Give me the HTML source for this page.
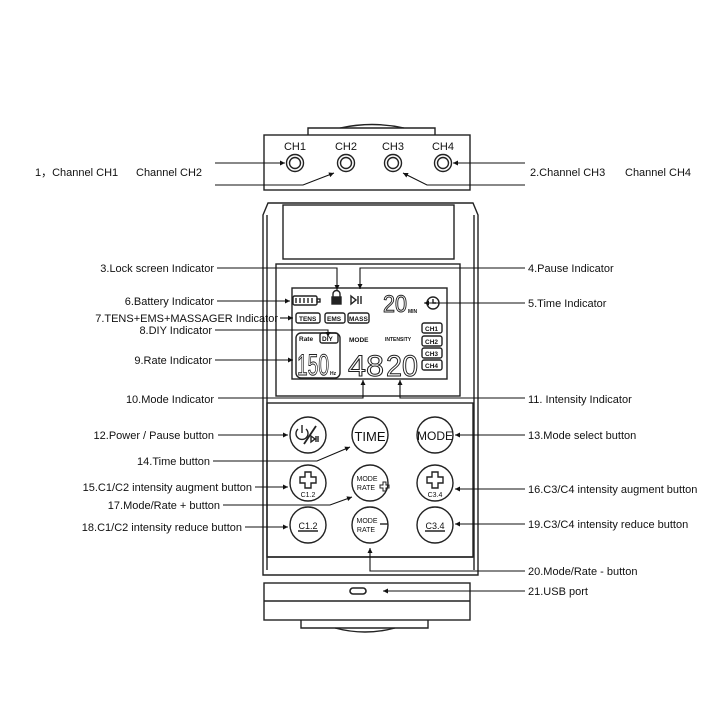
<!DOCTYPE html>
<html><head><meta charset="utf-8"><style>
html,body{margin:0;padding:0;background:#fff;}
svg{display:block;}
text{font-family:"Liberation Sans",sans-serif;fill:#111;}
</style></head><body>
<svg width="726" height="726" viewBox="0 0 726 726" xmlns="http://www.w3.org/2000/svg">
<defs>
<marker id="a" viewBox="0 0 10 10" refX="10" refY="5" markerWidth="7" markerHeight="5" orient="auto-start-reverse" markerUnits="userSpaceOnUse"><path d="M0,0 L10,5 L0,10 z" fill="#111"/></marker>
</defs>
<g fill="none" stroke="#222" stroke-width="1.4">
<path d="M308,135 V128 H435 V135"/>
<path d="M340,128 Q372,121 404,128"/>
<rect x="264" y="135" width="206" height="55"/>
<circle cx="295" cy="163" r="8.5"/><circle cx="295" cy="163" r="5.5"/>
<circle cx="346" cy="163" r="8.5"/><circle cx="346" cy="163" r="5.5"/>
<circle cx="393" cy="163" r="8.5"/><circle cx="393" cy="163" r="5.5"/>
<circle cx="443" cy="163" r="8.5"/><circle cx="443" cy="163" r="5.5"/>
<path d="M263,575 V215 L268,203 H473 L478,215 V575 Z"/>
<path d="M267,215 V570 M474,215 V570"/>
<rect x="283" y="205" width="171" height="54"/>
<rect x="276" y="264" width="184" height="132"/>
<rect x="292" y="288" width="155" height="91"/>
<rect x="267" y="403" width="206" height="154"/>
<line x1="267" y1="557" x2="473" y2="557"/>
<rect x="264" y="583" width="206" height="37"/>
<line x1="264" y1="601" x2="470" y2="601"/>
<path d="M301,620 V628 H428 V620"/>
<path d="M335,628 Q365,636 395,628"/>
<rect x="350" y="588" width="16" height="6" rx="3" stroke-width="1.6"/>
<circle cx="308" cy="435" r="18"/><circle cx="370" cy="435" r="18"/><circle cx="435" cy="435" r="18"/>
<circle cx="308" cy="483" r="18"/><circle cx="370" cy="483" r="18"/><circle cx="435" cy="483" r="18"/>
<circle cx="308" cy="525" r="18"/><circle cx="370" cy="525" r="18"/><circle cx="435" cy="525" r="18"/>
<path d="M305,472 h6 v5 h5 v6 h-5 v5 h-6 v-5 h-5 v-6 h5 z"/>
<path d="M432,472 h6 v5 h5 v6 h-5 v5 h-6 v-5 h-5 v-6 h5 z"/>
<path d="M383,482 h3 v3 h3 v3 h-3 v3 h-3 v-3 h-3 v-3 h3 z" stroke-width="1"/>
<line x1="380" y1="524" x2="388" y2="524"/>
<line x1="298" y1="531" x2="318" y2="531"/>
<line x1="425" y1="531" x2="445" y2="531"/>
<path d="M298,429 a6,6 0 1,0 8,0"/><line x1="302" y1="425" x2="302" y2="433"/>
<line x1="304" y1="444" x2="316" y2="426" stroke-width="1.8"/>
<path d="M311,436 l4,3 l-4,3 z M316,436 v6 M318,436 v6"/>
<rect x="293" y="296" width="24" height="9" rx="1.5"/><rect x="317" y="299" width="3" height="3"/>
<path d="M296,298 v5 M300,298 v5 M304,298 v5 M308,298 v5 M312,298 v5"/>
<rect x="332" y="297" width="9" height="7" fill="#222"/><path d="M333,297 v-3 a3.5,3.5 0 0,1 7,0 v3"/>
<path d="M351,296 l5,4 l-5,4 z M358,296 v8 M361,296 v8"/>
<rect x="296" y="313" width="24" height="10" rx="2"/>
<rect x="325" y="313" width="20" height="10" rx="2"/>
<rect x="348" y="313" width="21" height="10" rx="2"/>
<rect x="296" y="333" width="44" height="45" rx="5"/>
<rect x="320" y="333" width="18" height="10" rx="2"/>
<circle cx="433" cy="303" r="6"/><path d="M433,299 v4 h3"/>
<rect x="422" y="323" width="20" height="10" rx="2"/>
<rect x="422" y="336" width="20" height="10" rx="2"/>
<rect x="422" y="348" width="20" height="10" rx="2"/>
<rect x="422" y="360" width="20" height="10" rx="2"/>
</g>
<g font-size="6.5" font-weight="bold">
<text x="299" y="321">TENS</text><text x="327" y="321">EMS</text><text x="349" y="321">MASS</text>
<text x="299" y="341">Rate</text><text x="322" y="341">DIY</text>
<text x="349" y="342">MODE</text><text x="385" y="341" font-size="5">INTENSITY</text>
<text x="425" y="331">CH1</text><text x="425" y="344">CH2</text><text x="425" y="356">CH3</text><text x="425" y="368">CH4</text>
<text x="408" y="313" font-size="5">MIN</text><text x="330" y="375" font-size="5">Hz</text>
</g>
<g font-size="30" style="font-family:'DejaVu Sans Mono',monospace">
<text x="383" y="312" font-size="24" textLength="24" lengthAdjust="spacingAndGlyphs" style="fill:none;stroke:#222;stroke-width:1">20</text>
<text x="297" y="375" textLength="32" lengthAdjust="spacingAndGlyphs" style="fill:none;stroke:#222;stroke-width:1">150</text>
<text x="348" y="376" textLength="36" lengthAdjust="spacingAndGlyphs" style="fill:none;stroke:#222;stroke-width:1">48</text>
<text x="386" y="376" textLength="32" lengthAdjust="spacingAndGlyphs" style="fill:none;stroke:#222;stroke-width:1">20</text>
</g>
<text x="370" y="441" font-size="13" text-anchor="middle">TIME</text>
<text x="435" y="440" font-size="12" text-anchor="middle">MODE</text>
<text x="308" y="497" font-size="7" text-anchor="middle">C1.2</text>
<text x="435" y="497" font-size="7" text-anchor="middle">C3.4</text>
<text x="308" y="529" font-size="9" text-anchor="middle">C1.2</text>
<text x="435" y="529" font-size="9" text-anchor="middle">C3.4</text>
<text x="367" y="481" font-size="7" text-anchor="middle">MODE</text>
<text x="366" y="490" font-size="7" text-anchor="middle">RATE</text>
<text x="367" y="523" font-size="7" text-anchor="middle">MODE</text>
<text x="366" y="532" font-size="7" text-anchor="middle">RATE</text>
<g font-size="11" text-anchor="middle"><text x="295" y="150">CH1</text><text x="346" y="150">CH2</text><text x="393" y="150">CH3</text><text x="443" y="150">CH4</text></g>
<g fill="none" stroke="#111" stroke-width="1.1" marker-end="url(#a)">
<path d="M215,163 H285"/>
<path d="M215,185 H303 L334,173"/>
<path d="M525,163 H453"/>
<path d="M525,185 H427 L403,173"/>
<path d="M217,268 H337 V290"/>
<path d="M525,268 H360 V289"/>
<path d="M217,301 H290"/>
<path d="M525,303 H424"/>
<path d="M280,318 H293"/>
<path d="M215,330 H328 V337"/>
<path d="M215,360 H293"/>
<path d="M218,398 H363 V380"/>
<path d="M525,398 H400 V380"/>
<path d="M218,435 H288"/>
<path d="M525,435 H455"/>
<path d="M213,461 H317 L350,447"/>
<path d="M255,487 H288"/>
<path d="M525,489 H455"/>
<path d="M223,505 H330 L352,497"/>
<path d="M245,527 H288"/>
<path d="M525,524 H455"/>
<path d="M525,571 H370 V548"/>
<path d="M525,591 H383"/>
</g>
<g font-size="11">
<text x="35" y="176">1，Channel CH1</text><text x="136" y="176">Channel CH2</text>
<text x="530" y="176">2.Channel CH3</text><text x="625" y="176">Channel CH4</text>
<g text-anchor="end">
<text x="214" y="272">3.Lock screen  Indicator</text>
<text x="214" y="305">6.Battery Indicator</text>
<text x="278" y="322">7.TENS+EMS+MASSAGER  Indicator</text>
<text x="212" y="334">8.DIY Indicator</text>
<text x="212" y="364">9.Rate Indicator</text>
<text x="214" y="403">10.Mode  Indicator</text>
<text x="214" y="439">12.Power / Pause button</text>
<text x="210" y="465">14.Time  button</text>
<text x="252" y="491">15.C1/C2 intensity augment button</text>
<text x="220" y="509">17.Mode/Rate + button</text>
<text x="242" y="531">18.C1/C2 intensity reduce button</text>
</g>
<text x="528" y="272">4.Pause Indicator</text>
<text x="528" y="307">5.Time Indicator</text>
<text x="528" y="403">11. Intensity Indicator</text>
<text x="528" y="439">13.Mode select button</text>
<text x="528" y="493">16.C3/C4 intensity augment button</text>
<text x="528" y="528">19.C3/C4 intensity reduce button</text>
<text x="528" y="575">20.Mode/Rate - button</text>
<text x="528" y="595">21.USB port</text>
</g>
</svg>
</body></html>
